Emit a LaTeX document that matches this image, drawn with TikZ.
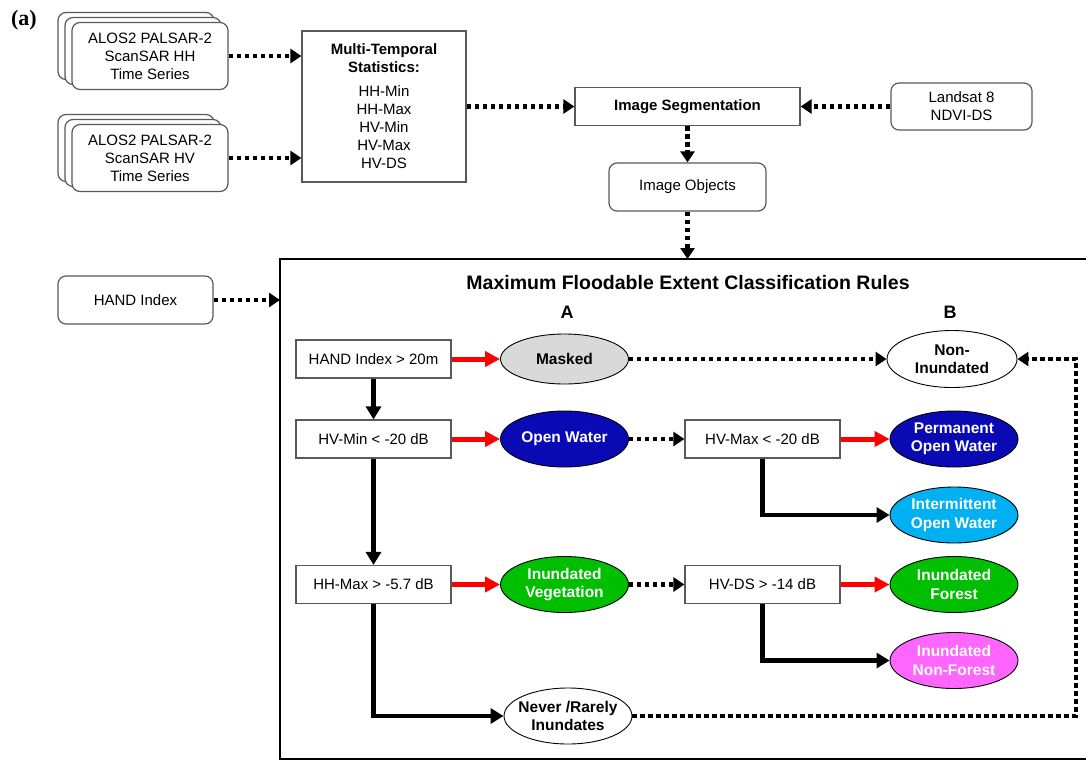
\documentclass[tikz,border=0pt]{standalone}
\usepackage{fontspec}
\setmainfont{Liberation Sans}
\newfontfamily\panelfont{Liberation Serif}
\usetikzlibrary{arrows.meta,shapes.geometric,positioning}

\definecolor{edgegray}{HTML}{595959}
\definecolor{maskgray}{HTML}{D9D9D9}
\definecolor{waterblue}{HTML}{0A0AB4}
\definecolor{lightblue}{HTML}{00B0F0}
\definecolor{vegegreen}{HTML}{00BF00}
\definecolor{pinkish}{HTML}{FF66FF}

\tikzset{
    txt/.style={font=\fontsize{15}{18}\selectfont},
    srcbox/.style={txt, draw=edgegray, line width=1.2pt, rounded corners=8pt, fill=white,
        minimum width=156pt, minimum height=67pt, align=center, inner sep=0pt},
    plainbox/.style={txt, draw=edgegray, line width=1.2pt, align=center, inner sep=0pt},
    roundbox/.style={plainbox, rounded corners=8pt},
    rulebox/.style={font=\fontsize{15}{17}\selectfont, draw=edgegray, line width=1.2pt,
        minimum width=155pt, minimum height=38pt, inner sep=0pt},
    classnode/.style={ellipse, draw=black, line width=0.9pt, font=\fontsize{15.5}{18.5}\bfseries,
        minimum width=128pt, minimum height=56pt, inner sep=0pt, align=center},
    dotarrow/.style={line width=4.5pt, dash pattern=on 4.5pt off 3.5pt,
        -{Triangle[length=11pt,width=14pt]}},
    redarrow/.style={line width=5pt, red, -{Triangle[length=15pt,width=15pt]}},
    blackarrow/.style={line width=4.5pt, -{Triangle[length=13pt,width=15pt]}}
}

\begin{document}
\begin{tikzpicture}[x=1pt, y=-1pt]
\useasboundingbox (0,0) rectangle (1086,761);

\node (panel) at (24,20) {\panelfont\fontsize{22}{24}\bfseries (a)};

\foreach \k in {2,1} {
    \node[srcbox, xshift=-7*\k pt, yshift=5*\k pt] at (150,56) {};
    \node[srcbox, xshift=-7*\k pt, yshift=5*\k pt] at (150,158) {};
}
\node[srcbox] (hh) at (150,56) {ALOS2 PALSAR-2\\ScanSAR HH\\Time Series};
\node[srcbox] (hv) at (150,158) {ALOS2 PALSAR-2\\ScanSAR HV\\Time Series};

\node[plainbox, minimum width=164pt, minimum height=151pt] (stats) at (384,106.5)
    {\textbf{Multi-Temporal}\\\textbf{Statistics:}\\[6pt]HH-Min\\HH-Max\\HV-Min\\HV-Max\\HV-DS};
\node[plainbox, minimum width=225pt, minimum height=38pt, font=\fontsize{15}{18}\bfseries] (seg)
    at (687.5,106.5) {Image Segmentation};
\node[roundbox, minimum width=141pt, minimum height=47pt] (landsat) at (961.5,106.5)
    {Landsat 8\\NDVI-DS};
\node[roundbox, minimum width=157pt, minimum height=48pt] (objects) at (687.5,187)
    {Image Objects};
\node[roundbox, minimum width=155pt, minimum height=48pt] (hand) at (135.5,300)
    {HAND Index};

\draw[dotarrow] (hh.east) -- (hh.east -| stats.west);
\draw[dotarrow] (hv.east) -- (hv.east -| stats.west);
\draw[dotarrow] (stats.east |- seg.west) -- (seg.west);
\draw[dotarrow] (landsat.west) -- (seg.east);
\draw[dotarrow] (seg.south) -- (objects.north);

\coordinate (frametop) at (687.5,259);
\coordinate (frameleft) at (280,300);
\draw[line width=2.5pt] (1086,259) -- (280,259) -- (280,759) -- (1086,759);
\draw[dotarrow] (objects.south) -- (frametop);
\draw[dotarrow] (hand.east) -- (frameleft);

\node[font=\fontsize{19.5}{22}\bfseries] (title) at (688,283)
    {Maximum Floodable Extent Classification Rules};
\node[font=\fontsize{18}{20}\bfseries] (colA) at (567,312) {A};
\node[font=\fontsize{18}{20}\bfseries] (colB) at (950,312) {B};

\node[rulebox] (hand20) at (373.5,359) {HAND Index > 20m};
\node[rulebox] (hvmin) at (373.5,439) {HV-Min < -20 dB};
\node[rulebox] (hhmax) at (373.5,584.5) {HH-Max > -5.7 dB};
\node[rulebox] (hvmax) at (762.5,439) {HV-Max < -20 dB};
\node[rulebox] (hvds) at (762.5,584.5) {HV-DS > -14 dB};

\node[classnode, fill=maskgray, minimum height=50pt] (masked) at (564.5,359) {Masked};
\node[classnode, fill=white, minimum width=130pt, minimum height=57pt] (noninund) at (952,359)
    {Non-\\Inundated};
\node[classnode, fill=waterblue, text=white] (openw) at (564.5,439) {Open Water};
\node[classnode, fill=waterblue, text=white] (perm) at (954,439) {Permanent\\Open Water};
\node[classnode, fill=lightblue, text=white] (inter) at (954,515) {Intermittent\\Open Water};
\node[classnode, fill=vegegreen, text=white] (veg) at (564.5,584.5) {Inundated\\Vegetation};
\node[classnode, fill=vegegreen, text=white] (forest) at (954,584.5) {Inundated\\Forest};
\node[classnode, fill=pinkish, text=white] (nonforest) at (954,660.5) {Inundated\\Non-Forest};
\node[classnode, fill=white, inner xsep=-7pt] (never) at (568,716) {Never /Rarely\\Inundates};

\draw[redarrow] (hand20.east) -- (masked.west);
\draw[redarrow] (hvmin.east) -- (openw.west);
\draw[redarrow] (hhmax.east) -- (veg.west);
\draw[redarrow] (hvmax.east) -- (perm.west);
\draw[redarrow] (hvds.east) -- (forest.west);

\draw[dotarrow] (masked.east) -- (noninund.west);
\draw[dotarrow] (openw.east) -- (hvmax.west);
\draw[dotarrow] (veg.east) -- (hvds.west);

\draw[blackarrow] (hand20.south) -- (hvmin.north);
\draw[blackarrow] (hvmin.south) -- (hhmax.north);
\draw[blackarrow] (hvmax.south) |- (inter.west);
\draw[blackarrow] (hvds.south) |- (nonforest.west);
\draw[blackarrow] (hhmax.south) |- (never.west);

\coordinate (loopcorner) at (1076,716);
\draw[dotarrow] (never.east) -- (loopcorner) |- (noninund.east);
\end{tikzpicture}
\end{document}
